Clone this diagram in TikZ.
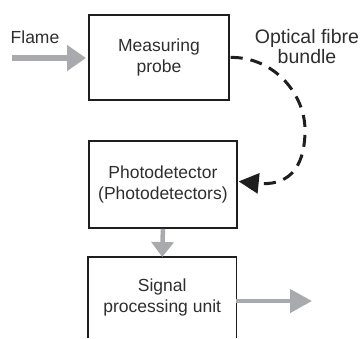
\documentclass[tikz,border=0pt]{standalone}
\usepackage{fontspec}
\setmainfont{Liberation Sans}
\usetikzlibrary{arrows.meta}
\definecolor{txt}{HTML}{2E2E2E}
\definecolor{edge}{HTML}{1E1E1E}
\definecolor{grayarrow}{HTML}{A8AAAD}
\begin{document}
\begin{tikzpicture}[x=1pt,y=-1pt,
  lbl/.style={font=\fontsize{17.5}{20.5}\selectfont, text=txt, align=center, inner sep=0pt},
  blockbox/.style={lbl, draw=edge, line width=1.8pt, anchor=north west},
  grayflow/.style={draw=grayarrow, line width=#1},
  dashlink/.style={draw=edge, line width=3pt, dash pattern=on 12pt off 8pt}
]
\useasboundingbox (0,0) rectangle (363,338);
\node[blockbox, minimum width=140pt, minimum height=85pt] (probe) at (88,14) {Measuring\\probe};
\node[blockbox, minimum width=148pt, minimum height=87pt] (pd) at (88,140) {Photodetector\\(Photodetectors)};
\node[lbl, minimum width=148pt, minimum height=81pt, anchor=north west] (spu) at (88,257) {Signal\\processing unit};
\draw[draw=edge, line width=1.8pt] (spu.south west) -- (spu.north west) -- (spu.north east) -- (spu.south east);
\node[lbl] (flame) at (35,37) {Flame};
\node[lbl, font=\fontsize{19.5}{20}\selectfont] (fibre) at (307,47) {Optical fibre\\bundle};
\coordinate (flamestart) at (12,58);
\coordinate (flametip) at (86,58);
\coordinate (outend) at (312,301);
\draw[grayflow=6.5pt, -{Triangle[length=19pt,width=25pt]}] (flamestart) -- (flametip);
\draw[grayflow=4.5pt, -{Triangle[length=15pt,width=22pt]}] (pd.south) -- (spu.north);
\draw[grayflow=4.5pt, -{Triangle[length=22pt,width=23pt]}] (spu.east |- outend) -- (outend);
\draw[dashlink, -{Triangle[length=20pt,width=20pt,sep=0pt]}] ([xshift=0.9pt]probe.east) .. controls (275,57) and (305,95) .. (305,130) .. controls (305,172) and (285,186) .. ([xshift=0.9pt,yshift=3pt]pd.east);
\end{tikzpicture}
\end{document}
